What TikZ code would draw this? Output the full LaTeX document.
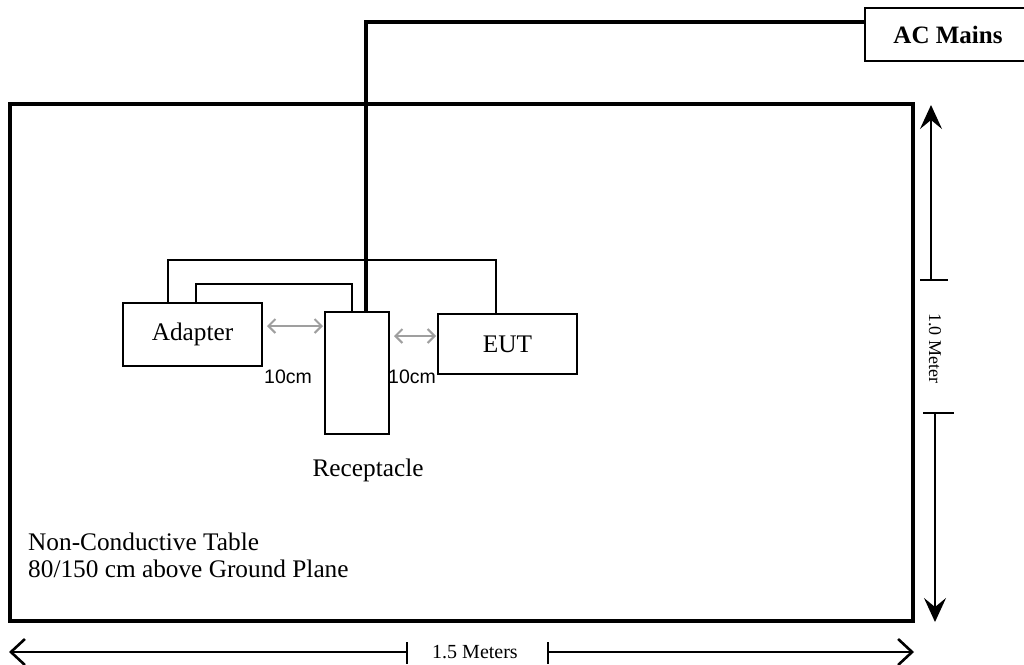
\documentclass[tikz,border=0pt]{standalone}
\usepackage{fontspec}
\setmainfont{Liberation Serif}
\newfontfamily\arialfont{Liberation Sans}
\usetikzlibrary{arrows.meta}
\begin{document}
\begin{tikzpicture}[x=1pt,y=-1pt,
  box/.style={draw,line width=2pt,inner sep=0pt,font=\fontsize{25.3}{28}\selectfont},
  cable/.style={line width=2pt},
  power/.style={line width=4pt},
  gap/.style={draw=gray!75,line width=2pt,{Straight Barb[length=7pt,width=14pt]}-{Straight Barb[length=7pt,width=14pt]}},
  dimline/.style={line width=1.6pt},
  dimtip/.style={-{Stealth[length=24pt,width=22pt,inset=9pt]}},
  barbtip/.style={-{Straight Barb[length=14pt,width=26pt,line width=2.6pt]}},
  lbl/.style={font=\fontsize{25.3}{28}\selectfont,inner sep=0pt},
  dimlbl/.style={font=\fontsize{18}{20}\selectfont,inner sep=0pt},
  cmlbl/.style={font=\arialfont\fontsize{19.5}{21}\selectfont,inner sep=0pt}]
\useasboundingbox (0,0) rectangle (1024,664);
% table
\node[draw,line width=4pt,minimum width=903pt,minimum height=517pt,inner sep=0pt] (table) at (461.5,362.5) {};
% boxes
\node[box,minimum width=161pt,minimum height=53pt] (ac) at (945.5,34.5) {};
\node[lbl,font=\bfseries\fontsize{25}{28}\selectfont] (actext) at (948,34.5) {AC Mains};
\node[box,minimum width=139pt,minimum height=63pt] (adapter) at (192.5,334.5) {Adapter};
\node[box,minimum width=64pt,minimum height=122pt] (recept) at (357,373) {};
\node[box,minimum width=139pt,minimum height=60pt] (eut) at (507.5,344) {EUT};
% power line
\coordinate (acin) at (865,22);
\draw[power] (acin) -| ([xshift=9pt]recept.north);
% cables
\draw[cable] ([xshift=-24.5pt]adapter.north) |- (496,260) -- (eut.north -| 496,0);
\draw[cable] ([xshift=3.5pt]adapter.north) |- (352,284) -- (recept.north -| 352,0);
% spacing arrows
\draw[gap,shorten <=4pt,shorten >=1pt] (adapter.east |- 0,326) -- (recept.west |- 0,326);
\draw[gap,shorten <=4pt,shorten >=1pt] (recept.east |- 0,336) -- (eut.west |- 0,336);
\node[cmlbl] (cm1) at (288,376.5) {10cm};
\node[cmlbl] (cm2) at (412,376.5) {10cm};
% labels
\node[lbl] (rlabel) at (368,470) {Receptacle};
\node[lbl,anchor=base west] (t1) at (28,550) {Non-Conductive Table};
\node[lbl,anchor=base west] (t2) at (28,577) {80/150 cm above Ground Plane};
% vertical dimension
\coordinate (vtop) at (931,105);
\coordinate (vt1) at (931,280);
\coordinate (vb1) at (935,413);
\coordinate (vbot) at (935,622);
\draw[dimline,dimtip] (vt1) -- (vtop);
\draw[dimline] (920,280) -- (948,280);
\draw[dimline,dimtip] (vb1) -- (vbot);
\draw[dimline] (923,413) -- (954,413);
\node[dimlbl,rotate=-90] (vlbl) at (935,348) {1.0 Meter};
% horizontal dimension
\coordinate (hleft) at (9,652);
\coordinate (hl1) at (407,652);
\coordinate (hr1) at (548,652);
\coordinate (hright) at (914,652);
\draw[dimline,barbtip] (hl1) -- (hleft);
\draw[dimline] (407,642) -- (407,664);
\draw[dimline,barbtip] (hr1) -- (hright);
\draw[dimline] (548,642) -- (548,664);
\node[dimlbl,font=\fontsize{20}{22}\selectfont] (hlbl) at (475,652) {1.5 Meters};
\end{tikzpicture}
\end{document}
